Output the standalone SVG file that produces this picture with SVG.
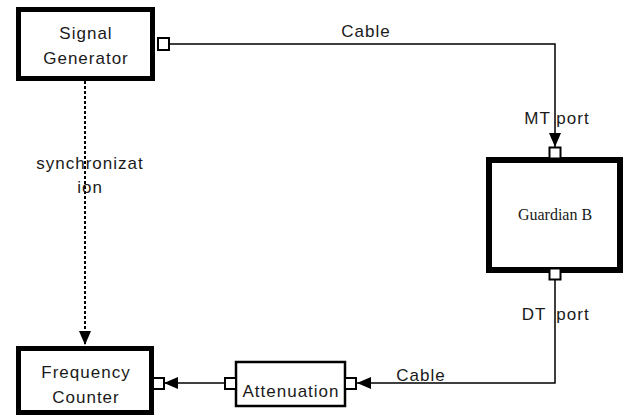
<svg xmlns="http://www.w3.org/2000/svg" width="624" height="417" viewBox="0 0 624 417">
<style>
.box{fill:#fff;stroke:#000;stroke-width:5}
.thin{fill:#fff;stroke:#000;stroke-width:2.5}
.port{fill:#fff;stroke:#000;stroke-width:2}
.wire{fill:none;stroke:#000;stroke-width:1.5}
.dash{fill:none;stroke:#000;stroke-width:2;stroke-dasharray:3 2}
.t{font-family:"Liberation Sans",Arial,sans-serif;font-size:17px;letter-spacing:1px;fill:#1a1a1a;text-anchor:middle}
.s{font-family:"Liberation Serif","Times New Roman",serif;font-size:16px;fill:#1a1a1a;text-anchor:middle}
</style>
<defs>
<marker id="arr" markerUnits="userSpaceOnUse" markerWidth="14" markerHeight="14" viewBox="0 0 14 12" refX="14" refY="6" orient="auto">
<path d="M0,0 L14,6 L0,12 Z" fill="#000"/>
</marker>
</defs>
<rect width="624" height="417" fill="#fff"/>
<g id="connectors">
<path class="wire" d="M170,44 H555 V147" marker-end="url(#arr)"/>
<path class="wire" d="M555,280 V383 H357" marker-end="url(#arr)"/>
<path class="wire" d="M224,383 H164" marker-end="url(#arr)"/>
<path class="dash" d="M85,81 V345" marker-end="url(#arr)"/>
</g>
<g id="signal-generator">
<rect class="box" x="18.5" y="9.5" width="134" height="69"/>
<text class="t" x="86" y="39">Signal</text>
<text class="t" x="86" y="64">Generator</text>
<rect class="port" x="158" y="38" width="11" height="12"/>
</g>
<g id="guardian-b">
<rect class="box" x="489" y="160" width="131" height="110" style="stroke-width:6"/>
<text class="s" x="555" y="220">Guardian B</text>
<rect class="port" x="549.5" y="147.5" width="11" height="11"/>
<rect class="port" x="549.5" y="268.5" width="11" height="11"/>
</g>
<g id="frequency-counter">
<rect class="box" x="18.5" y="348.5" width="133" height="64"/>
<text class="t" x="86" y="378">Frequency</text>
<text class="t" x="86" y="403">Counter</text>
<rect class="port" x="153" y="378" width="11" height="11"/>
</g>
<g id="attenuation">
<rect class="thin" x="236" y="362" width="109" height="44"/>
<text class="t" x="291" y="397">Attenuation</text>
<rect class="port" x="225" y="378" width="11" height="11"/>
<rect class="port" x="345" y="378" width="11" height="11"/>
</g>
<g id="labels">
<text class="t" x="366" y="37">Cable</text>
<text class="t" x="557" y="124">MT port</text>
<text class="t" x="534" y="320">DT</text>
<text class="t" x="573" y="320">port</text>
<text class="t" x="421" y="381">Cable</text>
<text class="t" x="90" y="169">synchronizat</text>
<text class="t" x="90" y="193">ion</text>
</g>
</svg>
